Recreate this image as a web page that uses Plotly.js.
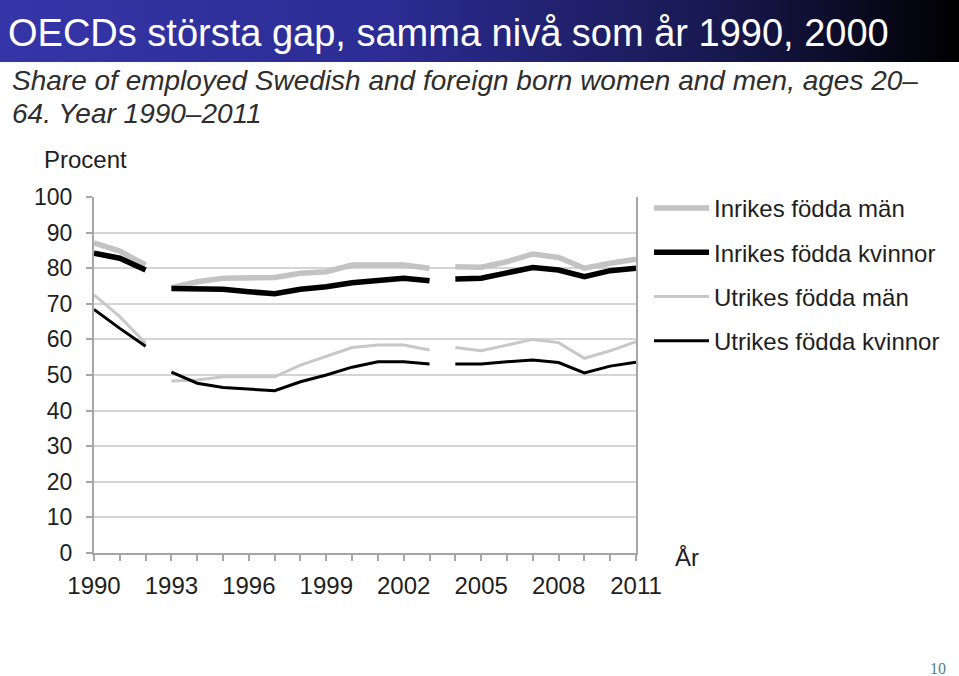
<!DOCTYPE html>
<html>
<head>
<meta charset="utf-8">
<script src="https://cdn.plot.ly/plotly-3.0.1.min.js"></script>
<style>
  html, body { margin: 0; padding: 0; background: #fff; }
  #chart {
    width: 959px; height: 676px;
    background: linear-gradient(to right, #3535a8 0%, #2c2c94 40%, #18184f 75%, #000 100%) top left / 100% 62px no-repeat, #fff;
  }
</style>
</head>
<body>
<div id="chart"></div>
<script>
// ---- Data ----
const years = [1990,1991,1992,1993,1994,1995,1996,1997,1998,1999,2000,2001,2002,2003,2004,2005,2006,2007,2008,2009,2010,2011];
const segmentStarts = [1990, 1993, 2004];   // series are broken before these years

const inrikesMan     = [87.1,84.8,80.9, 74.5,76.2,77.2,77.3,77.4,78.6,79.0,80.9,81.0,80.9,80.0, 80.4,80.3,81.8,84.0,83.0,80.0,81.4,82.5];
const inrikesKvinnor = [84.2,82.8,79.5, 74.3,74.2,74.1,73.4,72.8,74.1,74.8,75.9,76.7,77.2,76.5, 77.0,77.2,78.7,80.2,79.5,77.6,79.3,80.0];
const utrikesMan     = [72.5,66.4,58.9, 48.3,48.6,49.5,49.5,49.5,52.8,55.2,57.7,58.4,58.4,57.0, 57.7,56.8,58.4,60.0,59.1,54.7,56.8,59.4];
const utrikesKvinnor = [68.4,63.1,58.1, 50.8,47.7,46.5,46.1,45.6,48.1,50.0,52.2,53.7,53.7,53.1, 53.1,53.1,53.7,54.2,53.5,50.6,52.5,53.6];

const seriesNames = ["Inrikes födda män","Inrikes födda kvinnor","Utrikes födda män","Utrikes födda kvinnor"];
const yTicks = [0,10,20,30,40,50,60,70,80,90,100];
const xTickLabels = [1990,1993,1996,1999,2002,2005,2008,2011];

const titleText = "OECDs största gap, samma nivå som år 1990, 2000";
const subtitleLines = ["Share of employed Swedish and foreign born women and men, ages 20–", "64. Year 1990–2011"];
const yAxisLabel = "Procent";
const xAxisLabel = "År";
const pageNumber = "10";

// ---- Build traces (each series drawn in segments) ----
function segments(vals) {
  const out = [];
  for (let s = 0; s < segmentStarts.length; s++) {
    const start = segmentStarts[s];
    const end = s + 1 < segmentStarts.length ? segmentStarts[s + 1] : Infinity;
    const xs = [], ys = [];
    years.forEach((y, i) => { if (y >= start && y < end) { xs.push(y); ys.push(vals[i]); } });
    out.push({x: xs, y: ys});
  }
  return out;
}

const styles = [
  {vals: inrikesMan,     name: seriesNames[0], color: "#c3c3c3", width: 5.5, rank: 1},
  {vals: utrikesMan,     name: seriesNames[2], color: "#c8c8c8", width: 3,   rank: 3},
  {vals: inrikesKvinnor, name: seriesNames[1], color: "#000000", width: 5.5, rank: 2},
  {vals: utrikesKvinnor, name: seriesNames[3], color: "#000000", width: 3,   rank: 4}
];

const traces = [];
styles.forEach(st => {
  segments(st.vals).forEach((seg, k) => {
    traces.push({
      type: "scatter", mode: "lines",
      x: seg.x, y: seg.y,
      name: st.name, legendgroup: st.name, legendrank: st.rank,
      showlegend: k === 0,
      line: {color: st.color, width: st.width},
      hoverinfo: "x+y+name"
    });
  });
});

// plot area in pixels: x 94..636, y 197..553
const L = 94, R = 636, T = 197, B = 553;
const px = v => (v - L) / (R - L);
const py = v => (B - v) / (B - T);

const font = "Liberation Sans, Arial, sans-serif";
const txt = "#1e1e1e";

const layout = {
  width: 959, height: 676,
  margin: {l: L, r: 959 - R, t: T, b: 676 - B},
  paper_bgcolor: "rgba(0,0,0,0)",
  plot_bgcolor: "#ffffff",
  font: {family: font, size: 23, color: txt},
  title: {
    text: titleText,
    xref: "container", yref: "container",
    x: 8 / 959, xanchor: "left",
    y: 1 - 33 / 676, yanchor: "middle",
    font: {family: font, size: 38, color: "#ffffff"}
  },
  xaxis: {
    type: "linear", range: [1990, 2011],
    tickvals: xTickLabels, ticktext: xTickLabels.map(String),
    ticks: "outside", ticklen: 6, tickwidth: 2, tickcolor: "#a6a6a6",
    minor: {dtick: 1, tick0: 1990, ticks: "outside", ticklen: 6, tickwidth: 2, tickcolor: "#a6a6a6", showgrid: false},
    showgrid: false, zeroline: false,
    showline: true, linecolor: "#a6a6a6", linewidth: 2,
    ticklabelstandoff: 4,
    tickfont: {family: font, size: 24, color: txt},
    fixedrange: true
  },
  yaxis: {
    range: [0, 100], tickvals: yTicks,
    ticks: "outside", ticklen: 6, tickwidth: 2, tickcolor: "#a6a6a6",
    showgrid: true, gridcolor: "#d4d4d4", gridwidth: 2,
    zeroline: false,
    showline: true, linecolor: "#a6a6a6", linewidth: 2, mirror: true,
    ticklabelstandoff: 9,
    tickfont: {family: font, size: 23, color: txt},
    fixedrange: true
  },
  showlegend: true,
  legend: {
    x: px(649), xanchor: "left",
    y: py(186), yanchor: "top",
    bgcolor: "rgba(0,0,0,0)",
    font: {family: font, size: 24, color: txt},
    traceorder: "grouped",
    tracegroupgap: 10,
    itemwidth: 55
  },
  annotations: [
    {text: "<i>" + subtitleLines[0] + "</i>", xref: "paper", yref: "paper", x: px(10), y: py(80), xanchor: "left", yanchor: "middle", showarrow: false, font: {family: font, size: 28, color: "#2e2e2e"}},
    {text: "<i>" + subtitleLines[1] + "</i>", xref: "paper", yref: "paper", x: px(10), y: py(113), xanchor: "left", yanchor: "middle", showarrow: false, font: {family: font, size: 28, color: "#2e2e2e"}},
    {text: yAxisLabel, xref: "paper", yref: "paper", x: px(85), y: py(160), xanchor: "center", yanchor: "middle", showarrow: false, font: {family: font, size: 24, color: txt}},
    {text: xAxisLabel, xref: "paper", yref: "paper", x: px(687), y: py(557), xanchor: "center", yanchor: "middle", showarrow: false, font: {family: font, size: 24, color: txt}},
    {text: pageNumber, xref: "paper", yref: "paper", x: px(938), y: py(668), xanchor: "center", yanchor: "middle", showarrow: false, font: {family: "Liberation Serif, serif", size: 16, color: "#4d7f8f"}}
  ]
};

Plotly.newPlot("chart", traces, layout, {displayModeBar: false, staticPlot: false});
</script>
</body>
</html>
